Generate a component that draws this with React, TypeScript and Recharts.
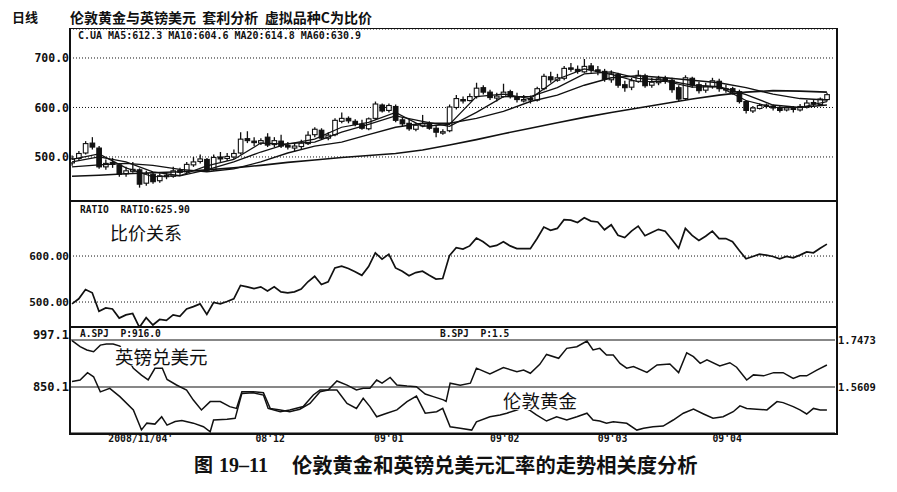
import { Bar, CartesianGrid, ComposedChart, Line, XAxis, YAxis } from 'recharts';

// C = London gold / GBPUSD, daily bars
const closes = [
  496, 507, 527, 520, 480, 487, 485, 465, 472, 475, 445, 466, 450, 462, 460, 472, 469, 485, 490, 496,
  473, 499, 496, 501, 507, 536, 533, 529, 533, 524, 533, 522, 520, 522, 528, 544, 556, 538, 544, 574,
  578, 573, 566, 558, 577, 607, 593, 604, 574, 567, 557, 564, 567, 558, 550, 551, 601, 618, 615, 622,
  639, 631, 620, 623, 631, 622, 616, 616, 616, 638, 663, 656, 660, 679, 678, 673, 683, 676, 674, 657,
  668, 645, 640, 654, 665, 644, 651, 658, 654, 636, 617, 660, 645, 634, 643, 654, 638, 638, 631, 612,
  594, 599, 604, 602, 599, 594, 599, 596, 602, 609, 607, 617, 625.9,
];
const opens = [
  488, 497, 508, 528, 518, 480, 489, 484, 466, 471, 474, 447, 465, 452, 463, 461, 473, 470, 484, 491,
  495, 474, 500, 497, 500, 508, 537, 532, 528, 540, 525, 532, 523, 518, 521, 527, 545, 554, 538, 545,
  572, 578, 572, 566, 557, 578, 605, 594, 602, 575, 568, 556, 563, 566, 558, 549, 553, 600, 616, 614,
  622, 640, 631, 619, 622, 632, 622, 614, 618, 615, 638, 662, 655, 659, 680, 677, 672, 684, 676, 673,
  656, 667, 646, 641, 653, 664, 645, 650, 659, 655, 640, 618, 659, 646, 635, 642, 653, 637, 638, 632,
  612, 593, 598, 605, 603, 600, 595, 600, 595, 601, 610, 606, 616,
];
const highs = [
  503, 512, 532, 540, 522, 495, 498, 488, 480, 490, 477, 472, 470, 467, 468, 480, 478, 490, 500, 505,
  498, 505, 510, 508, 515, 550, 552, 540, 538, 548, 540, 545, 530, 528, 535, 552, 560, 558, 550, 578,
  590, 582, 576, 575, 580, 612, 608, 608, 606, 580, 575, 568, 585, 572, 563, 556, 606, 625, 622, 628,
  650, 645, 636, 630, 648, 636, 630, 625, 624, 642, 668, 672, 668, 684, 690, 685, 698, 690, 684, 678,
  675, 670, 654, 660, 675, 668, 660, 664, 664, 660, 645, 665, 662, 652, 650, 660, 658, 646, 642, 636,
  615, 603, 608, 608, 606, 604, 603, 603, 607, 615, 615, 620, 630,
];
const lows = [
  482, 493, 505, 515, 476, 474, 478, 460, 460, 468, 438, 442, 446, 448, 455, 458, 463, 466, 480, 487,
  470, 472, 490, 492, 496, 505, 528, 522, 524, 520, 520, 518, 515, 510, 516, 524, 540, 535, 534, 542,
  568, 568, 562, 555, 554, 575, 590, 590, 570, 562, 553, 552, 560, 555, 540, 545, 550, 596, 608, 612,
  618, 626, 615, 612, 620, 618, 610, 610, 608, 612, 635, 650, 652, 655, 672, 668, 670, 670, 665, 652,
  650, 640, 632, 635, 650, 640, 640, 645, 648, 630, 612, 615, 640, 628, 630, 638, 632, 630, 626, 608,
  588, 589, 596, 598, 594, 590, 592, 590, 592, 598, 602, 603, 612,
];

// moving averages, read every 4th day
const maDays = [0, 4, 8, 12, 16, 20, 24, 28, 32, 36, 40, 44, 48, 52, 56, 60, 64, 68, 72, 76, 80, 84, 88, 92, 96, 100, 104, 108, 112];
const ma5 = [495, 506, 478, 460, 462, 482, 495, 528, 526, 536, 560, 570, 590, 562, 566, 622, 627, 618, 657, 678, 667, 652, 653, 641, 642, 614, 600, 600, 612];
const ma10 = [490, 500, 490, 470, 462, 474, 490, 510, 527, 530, 550, 566, 583, 572, 562, 590, 622, 622, 640, 668, 672, 659, 655, 645, 642, 626, 605, 600, 605];
const ma20 = [480, 484, 487, 483, 475, 470, 476, 490, 508, 522, 530, 545, 560, 568, 568, 578, 592, 612, 625, 645, 660, 664, 660, 655, 650, 640, 627, 618, 615];
const ma60 = [461, 463, 466, 468, 470, 474, 478, 483, 489, 494, 499, 503, 507, 514, 524, 535, 547, 558, 569, 580, 590, 599, 608, 617, 625, 631, 634, 633, 631];

// bottom panel: gold (left axis) and GBPUSD (right axis), by day position
const goldDays = [
  0, 1.2, 2.3, 3.2, 4.2, 5.6, 7.1, 9.1, 10.3, 11.1, 12.3, 13.3, 14.1, 15.3, 16.3, 18.0, 19.5, 20.5, 21.0, 23.0,
  24.2, 25.2, 26.9, 28.4, 29.1, 30.9, 32.3, 34.3, 35.8, 36.8, 38.0, 39.3, 40.8, 42.2, 43.2, 44.2, 45.2, 46.0, 47.2, 48.2,
  49.7, 51.1, 52.4, 53.6, 55.1, 55.5, 56.1, 57.6, 59.1, 60.0, 62.0, 64.0, 66.0, 67.0, 68.0, 69.4, 70.4, 72.2, 73.4, 74.9,
  76.4, 77.3, 78.3, 79.3, 80.3, 81.3, 82.3, 83.3, 85.3, 86.8, 88.7, 90.0, 91.2, 92.2, 93.2, 94.2, 96.1, 97.6, 98.6, 100.1,
  101.1, 102.6, 104.1, 105.5, 107.0, 108.0, 109.0, 110.5, 112.0,
];
const goldPrices = [
  867, 872, 895, 882, 835, 846, 820, 778, 716, 737, 734, 757, 731, 742, 745, 737, 726, 710, 747, 749,
  752, 830, 832, 825, 783, 773, 778, 789, 825, 841, 841, 869, 856, 841, 846, 846, 872, 862, 880, 856,
  853, 851, 828, 820, 810, 805, 862, 856, 862, 909, 891, 911, 898, 903, 893, 921, 952, 940, 971, 976,
  994, 966, 971, 950, 950, 924, 909, 914, 896, 919, 922, 895, 957, 945, 924, 935, 916, 926, 912, 872,
  888, 885, 895, 895, 877, 885, 885, 903, 919,
];
const gbpDays = [
  0, 1.2, 2.2, 3.2, 4.2, 5.1, 6.1, 7.1, 8.1, 9.1, 10.3, 11.3, 12.3, 13.4, 14.1, 15.5, 17.0, 18.0, 19.2, 20.5,
  22.0, 23.4, 24.4, 25.2, 26.9, 28.4, 29.4, 30.9, 32.3, 33.8, 35.3, 36.8, 38.0, 39.3, 40.8, 42.2, 43.2, 44.2, 45.2, 46.7,
  48.2, 49.7, 51.1, 52.4, 54.1, 55.0, 56.1, 57.6, 59.3, 60.0, 62.0, 63.5, 64.5, 66.0, 67.0, 68.0, 68.9, 70.4, 71.9, 73.4,
  74.9, 76.4, 77.3, 78.3, 79.3, 80.3, 82.3, 83.8, 84.8, 86.2, 87.7, 89.2, 90.7, 92.2, 93.7, 95.1, 96.6, 98.1, 99.1, 100.1,
  101.6, 103.1, 104.6, 105.5, 107.0, 108.0, 109.0, 110.0, 111.0, 112.0,
];
const gbpRates = [
  1.745, 1.721, 1.708, 1.701, 1.727, 1.731, 1.731, 1.723, 1.681, 1.635, 1.608, 1.589, 1.635, 1.635, 1.591, 1.569, 1.549, 1.509, 1.47, 1.503,
  1.503, 1.483, 1.476, 1.542, 1.542, 1.538, 1.476, 1.47, 1.463, 1.473, 1.496, 1.542, 1.549, 1.549, 1.496, 1.476, 1.516, 1.483, 1.443, 1.457,
  1.47, 1.503, 1.525, 1.457, 1.463, 1.476, 1.403, 1.397, 1.39, 1.423, 1.443, 1.45, 1.457, 1.47, 1.48, 1.467, 1.45, 1.426, 1.443, 1.43,
  1.443, 1.457, 1.43, 1.426, 1.417, 1.423, 1.417, 1.39, 1.397, 1.403, 1.406, 1.43, 1.457, 1.473, 1.454, 1.437, 1.443, 1.463, 1.486, 1.476,
  1.473, 1.47, 1.503, 1.499, 1.483, 1.47, 1.454, 1.476, 1.47, 1.47,
];

const topTicks = [500, 600, 700];
const ratioTicks = [500, 600];
const goldTicks = [850.1, 997.1];
const gbpTicks = [1.5609, 1.7473];
const dateTicks = [10.2, 29.4, 47.0, 64.2, 80.2, 97.2];
const dateLabels = ["2008/11/04'", "08'12", "09'01", "09'02", "09'03", "09'04"];

const candleRows = closes.map((close, i) => ({
  t: i,
  open: opens[i],
  high: highs[i],
  low: lows[i],
  close,
  range: [lows[i], highs[i]],
}));
const maRows = maDays.map((t, k) => ({ t, ma5: ma5[k], ma10: ma10[k], ma20: ma20[k], ma60: ma60[k] }));
const ratioRows = closes.map((ratio, i) => ({ t: i, ratio }));
const goldRows = goldDays.map((t, k) => ({ t, gold: goldPrices[k] }));
const gbpRows = gbpDays.map((t, k) => ({ t, gbp: gbpRates[k] }));

const INK = '#111';
const MONO = '"DejaVu Sans Mono", "Liberation Mono", monospace';
const CJK = '"Noto Sans CJK SC", "Noto Sans", sans-serif';
const X_DOMAIN: [number, number] = [-0.3, 113.2];
const tickStyle = { fontSize: 11.5, fontWeight: 700, fontFamily: MONO, fill: INK };

function Candle(props: any) {
  const { x, y, width, height, payload } = props;
  if (!payload || !Number.isFinite(y) || !Number.isFinite(height)) return null;
  const top = Math.min(y, y + height);
  const span = Math.abs(height);
  const { open, close, high, low } = payload;
  const toY = (v: number) => (high === low ? top : top + ((high - v) / (high - low)) * span);
  const cx = x + width / 2;
  const bodyTop = toY(Math.max(open, close));
  const bodyBottom = toY(Math.min(open, close));
  const up = close >= open;
  return (
    <g>
      <line x1={cx} x2={cx} y1={top} y2={top + span} stroke={INK} strokeWidth={1.3} />
      <rect
        x={cx - 2.3}
        width={4.6}
        y={bodyTop}
        height={Math.max(1.4, bodyBottom - bodyTop)}
        fill={up ? '#fff' : INK}
        stroke={INK}
        strokeWidth={1.1}
      />
    </g>
  );
}

// left tick of the bottom panel: the top label sits a little above its line
function GoldTick(props: any) {
  const { x, y, payload } = props;
  const lift = payload.value === goldTicks[goldTicks.length - 1] ? -5 : 0;
  return (
    <text x={x} y={y + lift} dy="0.35em" textAnchor="end" fontSize={12} fontWeight={700} fontFamily={MONO} fill={INK}>
      {payload.value.toFixed(1)}
    </text>
  );
}

const label = (left: number, top: number, size: number, text: string, extra: any = {}) => (
  <div
    style={{
      position: 'absolute',
      left,
      top,
      fontSize: size,
      lineHeight: 1,
      whiteSpace: 'pre',
      color: INK,
      ...extra,
    }}
  >
    {text}
  </div>
);

export default function App() {
  return (
    <div
      style={{
        position: 'absolute',
        left: 0,
        top: 0,
        width: 897,
        height: 492,
        background: '#fff',
        overflow: 'hidden',
        fontFamily: CJK,
      }}
    >
      {/* price panel */}
      <div style={{ position: 'absolute', left: 0, top: 29 }}>
        <ComposedChart width={897} height={172} data={candleRows} margin={{ top: 0, right: 62, bottom: 0, left: 0 }}>
          <CartesianGrid vertical={false} stroke={INK} strokeDasharray="1 2" />
          <XAxis type="number" dataKey="t" domain={X_DOMAIN} allowDataOverflow hide />
          <YAxis
            width={70}
            domain={[411, 758.6]}
            ticks={topTicks}
            interval={0}
            allowDataOverflow
            tickFormatter={(v: number) => v.toFixed(1)}
            axisLine={false}
            tickLine={false}
            tickSize={0}
            tickMargin={1}
            tick={tickStyle}
          />
          <Bar dataKey="range" barSize={5} shape={Candle} isAnimationActive={false} />
          <Line data={maRows} dataKey="ma60" stroke={INK} strokeWidth={1.6} dot={false} isAnimationActive={false} />
          <Line data={maRows} dataKey="ma20" stroke={INK} strokeWidth={1.4} dot={false} isAnimationActive={false} />
          <Line data={maRows} dataKey="ma10" stroke={INK} strokeWidth={1.3} dot={false} isAnimationActive={false} />
          <Line data={maRows} dataKey="ma5" stroke={INK} strokeWidth={1.2} dot={false} isAnimationActive={false} />
        </ComposedChart>
      </div>

      {/* ratio panel */}
      <div style={{ position: 'absolute', left: 0, top: 201 }}>
        <ComposedChart width={897} height={126} data={ratioRows} margin={{ top: 0, right: 62, bottom: 0, left: 0 }}>
          <CartesianGrid vertical={false} stroke={INK} strokeDasharray="1 2" />
          <XAxis type="number" dataKey="t" domain={X_DOMAIN} allowDataOverflow hide />
          <YAxis
            width={70}
            domain={[445.7, 719.6]}
            ticks={ratioTicks}
            interval={0}
            allowDataOverflow
            tickFormatter={(v: number) => v.toFixed(2)}
            axisLine={false}
            tickLine={false}
            tickSize={0}
            tickMargin={1}
            tick={{ ...tickStyle, fontSize: 11 }}
          />
          <Line dataKey="ratio" stroke={INK} strokeWidth={1.7} dot={false} isAnimationActive={false} />
        </ComposedChart>
      </div>

      {/* gold vs GBPUSD panel */}
      <div style={{ position: 'absolute', left: 0, top: 327 }}>
        <ComposedChart width={897} height={122} margin={{ top: 0, right: 0, bottom: 0, left: 0 }}>
          <CartesianGrid yAxisId="left" vertical={false} stroke={INK} strokeWidth={1.2} />
          <XAxis
            type="number"
            dataKey="t"
            domain={X_DOMAIN}
            allowDataOverflow
            ticks={dateTicks}
            interval={0}
            tickFormatter={(v: number) => dateLabels[dateTicks.indexOf(v)] ?? ''}
            height={16}
            axisLine={false}
            tickLine={false}
            tickSize={0}
            tickMargin={2}
            tick={{ ...tickStyle, fontSize: 9.8 }}
          />
          <YAxis
            yAxisId="left"
            width={70}
            domain={[706.2, 1037.8]}
            ticks={goldTicks}
            interval={0}
            allowDataOverflow
            axisLine={false}
            tickLine={false}
            tickSize={0}
            tickMargin={1}
            tick={GoldTick}
          />
          <YAxis
            yAxisId="right"
            orientation="right"
            width={62}
            domain={[1.3785, 1.7989]}
            ticks={gbpTicks}
            interval={0}
            allowDataOverflow
            tickFormatter={(v: number) => v.toFixed(4)}
            axisLine={false}
            tickLine={false}
            tickSize={0}
            tickMargin={3}
            tick={{ ...tickStyle, fontSize: 10.5 }}
          />
          <Line yAxisId="left" data={goldRows} dataKey="gold" stroke={INK} strokeWidth={1.5} dot={false} isAnimationActive={false} />
          <Line yAxisId="right" data={gbpRows} dataKey="gbp" stroke={INK} strokeWidth={1.5} dot={false} isAnimationActive={false} />
        </ComposedChart>
      </div>

      {/* frame */}
      <div style={{ position: 'absolute', left: 69, top: 28, width: 765, height: 404, border: `2px solid ${INK}`, borderTopWidth: 1.5, pointerEvents: 'none' }} />
      <div style={{ position: 'absolute', left: 70, top: 200, width: 766, height: 2, background: INK }} />
      <div style={{ position: 'absolute', left: 70, top: 326, width: 766, height: 2, background: INK }} />

      {/* texts */}
      {label(12, 10, 13, '日线', { fontWeight: 700 })}
      {label(70, 10, 14, '伦敦黄金与英镑美元  套利分析  虚拟品种C为比价', { fontWeight: 700 })}
      {label(78, 31, 10, 'C.UA MA5:612.3 MA10:604.6 MA20:614.8 MA60:630.9', { fontFamily: MONO, fontWeight: 700 })}
      {label(80, 205, 9.6, 'RATIO  RATIO:625.90', { fontFamily: MONO, fontWeight: 700 })}
      {label(110, 223, 18, '比价关系')}
      {label(80, 329, 9.6, 'A.SPJ  P:916.0', { fontFamily: MONO, fontWeight: 700 })}
      {label(440, 329, 9.6, 'B.SPJ  P:1.5', { fontFamily: MONO, fontWeight: 700 })}
      {label(114, 347, 18.5, '英镑兑美元', { background: '#fff', padding: '0 1px' })}
      {label(502, 391, 18.5, '伦敦黄金', { background: '#fff', padding: '0 1px' })}
      <div style={{ position: 'absolute', left: 194, top: 454, lineHeight: 1, whiteSpace: 'nowrap', color: INK, fontWeight: 700 }}>
        <span style={{ fontSize: 19 }}>图</span>
        <span style={{ fontSize: 20, marginLeft: 6, fontFamily: '"Liberation Serif", serif' }}>19–11</span>
      </div>
      {label(292, 454, 20.3, '伦敦黄金和英镑兑美元汇率的走势相关度分析', { fontWeight: 700 })}
    </div>
  );
}
